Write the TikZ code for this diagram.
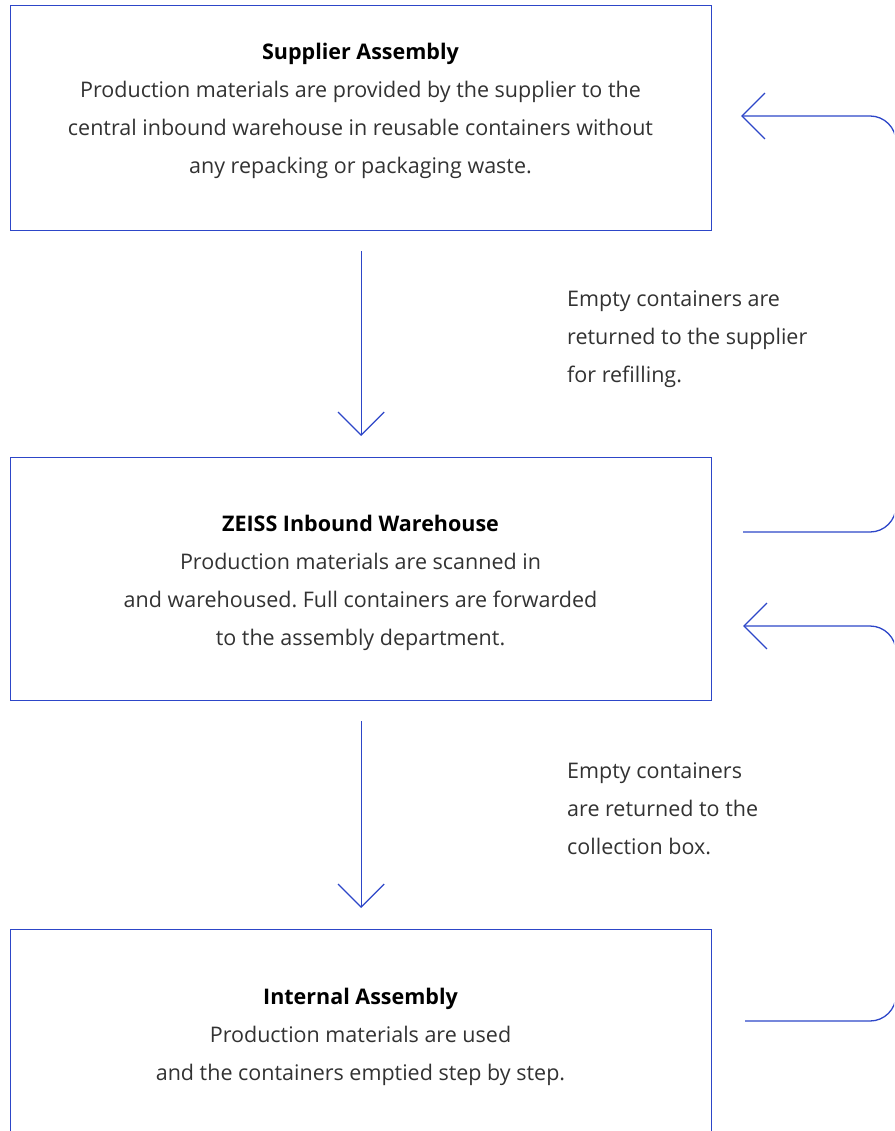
\documentclass[tikz,border=0pt]{standalone}
\usepackage{fontspec}
\setmainfont{Open Sans}
\usetikzlibrary{arrows.meta}
\definecolor{zblue}{RGB}{45,70,200}
\definecolor{ztext}{RGB}{50,50,50}
\frenchspacing
\tikzset{
  box/.style={draw=zblue, line width=1.3pt, rectangle, inner sep=0pt, anchor=north west},
  txt/.style={text=ztext, align=center, font=\fontsize{21.5}{38}\selectfont, inner sep=0pt},
  note/.style={text=ztext, align=left, font=\fontsize{21.5}{38}\selectfont, inner sep=0pt, anchor=north west},
  flow/.style={draw=zblue, line width=1.3pt, -{Straight Barb[length=23pt,width=46pt,line width=1.3pt]}},
  ret/.style={draw=zblue, line width=1.3pt, rounded corners=26pt, -{Straight Barb[length=23pt,width=46pt,line width=1.3pt]}}
}
\begin{document}
\begin{tikzpicture}[x=1pt,y=-1pt]
\useasboundingbox (0,0) rectangle (894,1131);
\clip (0,0) rectangle (894,1131);
\node[box, minimum width=701pt, minimum height=225pt] (b1) at (10,5) {};
\node[box, minimum width=701pt, minimum height=243pt] (b2) at (10,457) {};
\node[box, minimum width=701pt, minimum height=260pt] (b3) at (10,929) {};

\node[txt] (t1) at (360.5,111) {\textbf{\color{black}Supplier Assembly}\\Production materials are provided by the supplier to the\\central inbound warehouse in reusable containers without\\any repacking or packaging waste.};
\node[txt] (t2) at (360.5,583) {\textbf{\color{black}ZEISS Inbound Warehouse}\\Production materials are scanned in\\and warehoused. Full containers are forwarded\\to the assembly department.};
\node[txt] (t3) at (360.5,1036.5) {\textbf{\color{black}Internal Assembly}\\Production materials are used\\and the containers emptied step by step.};

\node[note] (n1) at (567,291) {Empty containers are\\returned to the supplier\\for refilling.};
\node[note] (n2) at (567,763) {Empty containers\\are returned to the\\collection box.};

\draw[flow, shorten <=20pt, shorten >=21pt] (b1.south) -- (b2.north);
\draw[flow, shorten <=20pt, shorten >=21pt] (b2.south) -- (b3.north);

\coordinate (r1s) at (743,532);
\coordinate (r1e) at (741,116);
\coordinate (r2s) at (745,1021);
\coordinate (r2e) at (743,626);
\draw[ret] (r1s) -- (896,532) -- (896,116) -- (r1e);
\draw[ret] (r2s) -- (896,1021) -- (896,626) -- (r2e);
\end{tikzpicture}
\end{document}
